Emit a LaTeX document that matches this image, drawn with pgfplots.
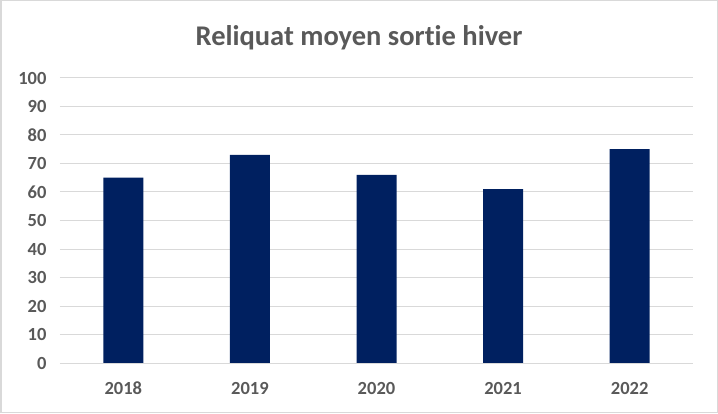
\documentclass[border=0pt]{standalone}
\usepackage{pgfplots}
\pgfplotsset{compat=1.18}
\usepackage{fontspec}
\setmainfont{Carlito}[Ligatures=NoCommon]
\definecolor{barblue}{HTML}{002060}
\definecolor{txtgray}{HTML}{595959}
\definecolor{gridgray}{HTML}{D9D9D9}
\begin{document}
\begin{tikzpicture}[x=1pt,y=1pt]
\path[use as bounding box] (0,0) rectangle (718,413);
\draw[gridgray, line width=1.5pt] (0.75,0.75) rectangle (717.25,412.25);
\node[text=txtgray, font=\fontsize{28.5}{32}\selectfont\bfseries] at (359,375) {Reliquat moyen sortie hiver};
\begin{axis}[
  at={(60pt,50pt)}, anchor=south west,
  scale only axis, width=633pt, height=285pt,
  xmin=-0.5, xmax=4.5, ymin=0, ymax=100,
  ytick={0,10,...,100},
  xtick={0,1,2,3,4},
  xticklabels={2018,2019,2020,2021,2022},
  axis line style={draw=none},
  axis x line*=bottom,
  major tick length=0pt,
  ymajorgrids, grid style={gridgray, line width=1pt},
  tick label style={text=txtgray, font=\fontsize{18.5}{21}\selectfont\bfseries},
  /pgf/number format/assume math mode=true,
  yticklabel style={xshift=-10pt},
  xticklabel style={anchor=base, yshift=-31pt},
  clip=false,
]
\addplot[ybar, bar width=40pt, fill=barblue, draw=none] coordinates {(0,65) (1,73) (2,66) (3,61) (4,75)};
\draw[gridgray, line width=1pt] (axis cs:-0.5,0) -- (axis cs:4.5,0);
\end{axis}
\end{tikzpicture}
\end{document}
